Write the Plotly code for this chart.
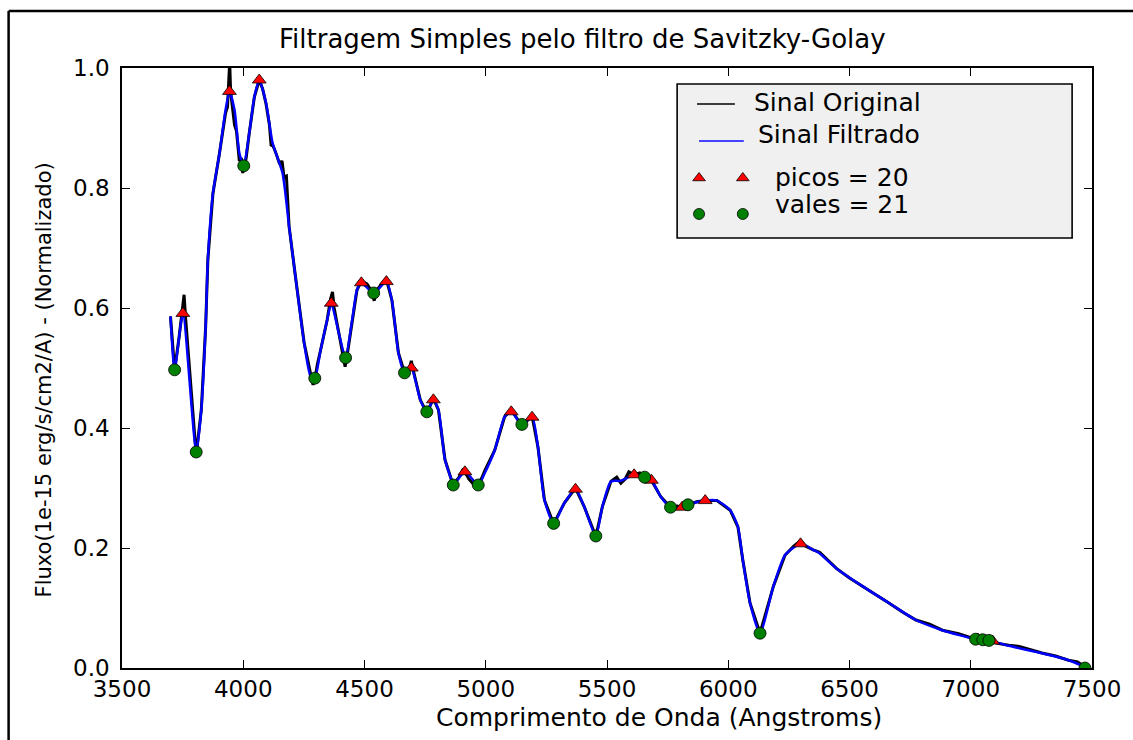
import plotly.graph_objects as go

# ---------------- data ----------------
orig_wave = [3700, 3717, 3735, 3751, 3756, 3762, 3785, 3806, 3827, 3845, 3854, 3875, 3902, 3920,
             3927, 3935, 3940, 3944, 3948, 3955, 3964, 3972, 3984, 3992, 3998, 4004, 4012, 4025,
             4046, 4066, 4080, 4094, 4108, 4115, 4121, 4135, 4150, 4160, 4168, 4178, 4189, 4217,
             4251, 4278, 4288, 4295, 4305, 4319, 4346, 4360, 4368, 4375, 4394, 4412, 4420, 4428,
             4449, 4469, 4487, 4510, 4530, 4540, 4548, 4570, 4590, 4613, 4640, 4665, 4685, 4693,
             4700, 4730, 4757, 4784, 4805, 4832, 4859, 4866, 4890, 4905, 4914, 4930, 4950, 4969,
             4985, 4996, 5037, 5078, 5105, 5125, 5149, 5170, 5191, 5215, 5242, 5280, 5324, 5370,
             5406, 5454, 5481, 5516, 5540, 5557, 5575, 5590, 5612, 5635, 5655, 5683, 5721, 5762,
             5790, 5810, 5834, 5870, 5905, 5953, 6008, 6040, 6060, 6090, 6131, 6186, 6234, 6270,
             6298, 6320, 6350, 6377, 6446, 6500, 6555, 6620, 6664, 6720, 6774, 6830, 6883, 6950,
             7020, 7075, 7110, 7157, 7200, 7294, 7350, 7403, 7440, 7471]
orig_flux = [0.586, 0.497, 0.550, 0.600, 0.622, 0.585, 0.460, 0.355, 0.430, 0.569, 0.680, 0.791, 0.858, 0.905,
             0.925, 0.935, 0.975, 1.010, 0.960, 0.935, 0.905, 0.895, 0.845, 0.850, 0.825, 0.835, 0.850, 0.892,
             0.952, 0.980, 0.965, 0.940, 0.905, 0.870, 0.872, 0.858, 0.840, 0.845, 0.818, 0.820, 0.736, 0.647,
             0.542, 0.490, 0.472, 0.480, 0.505, 0.530, 0.580, 0.615, 0.627, 0.600, 0.558, 0.525, 0.502, 0.520,
             0.580, 0.630, 0.645, 0.640, 0.628, 0.612, 0.628, 0.640, 0.648, 0.613, 0.525, 0.492, 0.498, 0.512,
             0.498, 0.447, 0.425, 0.449, 0.430, 0.347, 0.313, 0.305, 0.318, 0.330, 0.327, 0.315, 0.306, 0.305,
             0.318, 0.329, 0.363, 0.419, 0.430, 0.418, 0.404, 0.412, 0.420, 0.369, 0.280, 0.240, 0.275, 0.300,
             0.269, 0.219, 0.269, 0.311, 0.318, 0.308, 0.315, 0.327, 0.322, 0.325, 0.318, 0.313, 0.286, 0.268,
             0.270, 0.268, 0.272, 0.277, 0.279, 0.279, 0.263, 0.235, 0.180, 0.108, 0.058, 0.136, 0.188, 0.203,
             0.212, 0.203, 0.197, 0.193, 0.166, 0.150, 0.136, 0.120, 0.108, 0.093, 0.080, 0.073, 0.063, 0.057,
             0.048, 0.046, 0.041, 0.038, 0.036, 0.025, 0.020, 0.013, 0.010, 0.002]

filt_wave = [3700, 3717, 3751, 3806, 3827, 3845, 3854, 3875, 3902, 3927, 3943, 3964, 3984, 4002,
             4025, 4046, 4066, 4094, 4121, 4162, 4189, 4217, 4251, 4278, 4295, 4319, 4346, 4363,
             4394, 4422, 4449, 4469, 4487, 4538, 4590, 4613, 4640, 4665, 4693, 4730, 4757, 4784,
             4805, 4832, 4859, 4866, 4914, 4969, 4996, 5037, 5078, 5105, 5149, 5191, 5215, 5242,
             5280, 5324, 5370, 5406, 5454, 5481, 5516, 5557, 5612, 5655, 5683, 5721, 5762, 5810,
             5834, 5905, 5953, 6008, 6040, 6060, 6090, 6131, 6186, 6234, 6298, 6350, 6377, 6446,
             6555, 6664, 6774, 6883, 7020, 7075, 7157, 7294, 7403, 7471]
filt_flux = [0.586, 0.497, 0.591, 0.360, 0.430, 0.569, 0.680, 0.791, 0.858, 0.930, 0.961, 0.930, 0.858, 0.837,
             0.892, 0.952, 0.980, 0.942, 0.875, 0.825, 0.736, 0.647, 0.542, 0.486, 0.483, 0.530, 0.580, 0.608,
             0.558, 0.517, 0.580, 0.630, 0.642, 0.625, 0.644, 0.613, 0.525, 0.492, 0.500, 0.447, 0.427, 0.447,
             0.430, 0.347, 0.313, 0.305, 0.327, 0.305, 0.325, 0.363, 0.419, 0.427, 0.406, 0.418, 0.369, 0.280,
             0.241, 0.275, 0.298, 0.269, 0.220, 0.269, 0.311, 0.312, 0.322, 0.318, 0.313, 0.286, 0.268, 0.268,
             0.272, 0.279, 0.279, 0.263, 0.235, 0.180, 0.108, 0.058, 0.136, 0.188, 0.207, 0.197, 0.191, 0.166,
             0.136, 0.108, 0.080, 0.063, 0.048, 0.046, 0.037, 0.0245, 0.013, 0.002]

peak_wave = [3751, 3943, 4066, 4363, 4487, 4590, 4693, 4784, 4914, 5105,
             5191, 5370, 5612, 5683, 5810, 5905, 6298, 7030, 7045, 7090]
peak_flux = [0.591, 0.961, 0.980, 0.608, 0.642, 0.644, 0.500, 0.447, 0.327, 0.427,
             0.418, 0.298, 0.322, 0.313, 0.268, 0.279, 0.207, 0.048, 0.047, 0.045]

valley_wave = [3717, 3806, 4002, 4295, 4422, 4538, 4665, 4757, 4866, 4969, 5149,
               5280, 5454, 5655, 5762, 5834, 6131, 7020, 7050, 7075, 7471]
valley_flux = [0.497, 0.360, 0.837, 0.483, 0.517, 0.625, 0.492, 0.427, 0.305, 0.305, 0.406,
               0.241, 0.220, 0.318, 0.268, 0.272, 0.058, 0.048, 0.047, 0.046, 0.0]

x_ticks = [3500, 4000, 4500, 5000, 5500, 6000, 6500, 7000, 7500]
y_ticks = [0.0, 0.2, 0.4, 0.6, 0.8, 1.0]
y_tick_text = ["0.0", "0.2", "0.4", "0.6", "0.8", "1.0"]

title_text = "Filtragem Simples pelo filtro de Savitzky-Golay"
x_label = "Comprimento de Onda (Angstroms)"
y_label = "Fluxo(1e-15 erg/s/cm2/A) - (Normalizado)"
legend_labels = ["Sinal Original", "Sinal Filtrado", "picos = 20", "vales = 21"]

# ---------------- figure ----------------
FONT = "DejaVu Sans"
RED = "#ff0000"
GREEN = "#008000"

fig = go.Figure()

fig.add_trace(go.Scatter(x=orig_wave, y=orig_flux, mode="lines",
                         line=dict(color="black", width=3), showlegend=False))
fig.add_trace(go.Scatter(x=filt_wave, y=filt_flux, mode="lines",
                         line=dict(color="#0000ff", width=2.5, shape="spline", smoothing=0.6),
                         showlegend=False))
fig.add_trace(go.Scatter(x=peak_wave, y=peak_flux, mode="markers",
                         marker=dict(symbol="triangle-up", size=12, color=RED,
                                     line=dict(color="black", width=0.8)),
                         showlegend=False))
fig.add_trace(go.Scatter(x=valley_wave, y=valley_flux, mode="markers",
                         marker=dict(symbol="circle", size=12, color=GREEN,
                                     line=dict(color="black", width=0.8)),
                         showlegend=False))

# legend markers on an overlay axis pair spanning the plot area (0..1)
leg_mx = [0.5949, 0.6400]
fig.add_trace(go.Scatter(x=leg_mx, y=[0.8167, 0.8167], mode="markers", xaxis="x2", yaxis="y2",
                         marker=dict(symbol="triangle-up", size=11, color=RED,
                                     line=dict(color="black", width=0.8)),
                         cliponaxis=False, showlegend=False, hoverinfo="skip"))
fig.add_trace(go.Scatter(x=leg_mx, y=[0.7567, 0.7567], mode="markers", xaxis="x2", yaxis="y2",
                         marker=dict(symbol="circle", size=11, color=GREEN,
                                     line=dict(color="black", width=0.8)),
                         cliponaxis=False, showlegend=False, hoverinfo="skip"))

axis_common = dict(showline=True, linecolor="black", linewidth=1.6, mirror="allticks",
                   ticks="inside", ticklen=8, tickwidth=1, tickcolor="black",
                   showgrid=False, zeroline=False,
                   tickfont=dict(family=FONT, size=23, color="black"))

shapes = [
    # legend box
    dict(type="rect", xref="paper", yref="paper", x0=0.5723, x1=0.9795, y0=0.7167, y1=0.9733,
         line=dict(color="black", width=1.6), fillcolor="#f0f0f0", layer="below"),
    # legend lines
    dict(type="line", xref="paper", yref="paper", x0=0.5928, x1=0.6318, y0=0.94, y1=0.94,
         line=dict(color="black", width=1.5)),
    dict(type="line", xref="paper", yref="paper", x0=0.5949, x1=0.6410, y0=0.8783, y1=0.8783,
         line=dict(color="#4444ff", width=2)),
    # outer frame (left and top)
    dict(type="line", xref="paper", yref="paper", x0=-0.1169, x1=-0.1169, y0=-0.13, y1=1.095,
         line=dict(color="black", width=2.5)),
    dict(type="line", xref="paper", yref="paper", x0=-0.1169, x1=1.05, y0=1.095, y1=1.095,
         line=dict(color="black", width=2.5)),
]

ann_font = dict(family=FONT, size=25, color="black")
annotations = [
    dict(text=title_text, xref="paper", yref="paper", x=0.4749, y=1.048, showarrow=False,
         xanchor="center", yanchor="middle", font=dict(family=FONT, size=26, color="black")),
    dict(text=x_label, xref="paper", yref="paper", x=0.5538, y=-0.0833, showarrow=False,
         xanchor="center", yanchor="middle", font=dict(family=FONT, size=25, color="black")),
    dict(text=y_label, xref="paper", yref="paper", x=-0.08, y=0.48, showarrow=False,
         textangle=-90, xanchor="center", yanchor="middle",
         font=dict(family=FONT, size=21, color="black")),
    dict(text=legend_labels[0], xref="paper", yref="paper", x=0.6492, y=0.9417, showarrow=False,
         xanchor="left", yanchor="middle", font=ann_font),
    dict(text=legend_labels[1], xref="paper", yref="paper", x=0.6533, y=0.89, showarrow=False,
         xanchor="left", yanchor="middle", font=ann_font),
    dict(text=legend_labels[2], xref="paper", yref="paper", x=0.6708, y=0.8167, showarrow=False,
         xanchor="left", yanchor="middle", font=ann_font),
    dict(text=legend_labels[3], xref="paper", yref="paper", x=0.6708, y=0.7717, showarrow=False,
         xanchor="left", yanchor="middle", font=ann_font),
]

fig.update_layout(
    width=1133, height=740, autosize=False,
    margin=dict(l=122, r=36, t=68, b=72),
    paper_bgcolor="white", plot_bgcolor="white",
    showlegend=False,
    xaxis=dict(range=[3500, 7500], tickmode="array", tickvals=x_ticks,
               ticktext=[str(v) for v in x_ticks], ticklabelstandoff=0, **axis_common),
    yaxis=dict(range=[0, 1], tickmode="array", tickvals=y_ticks, ticktext=y_tick_text,
               ticklabelstandoff=6, **axis_common),
    xaxis2=dict(range=[0, 1], overlaying="x", anchor="y2", visible=False, fixedrange=True),
    yaxis2=dict(range=[0, 1], overlaying="y", anchor="x2", visible=False, fixedrange=True),
    shapes=shapes,
    annotations=annotations,
)

fig.write_html("out.html", config={"displayModeBar": False},
               post_script="document.body.style.margin='0';")
